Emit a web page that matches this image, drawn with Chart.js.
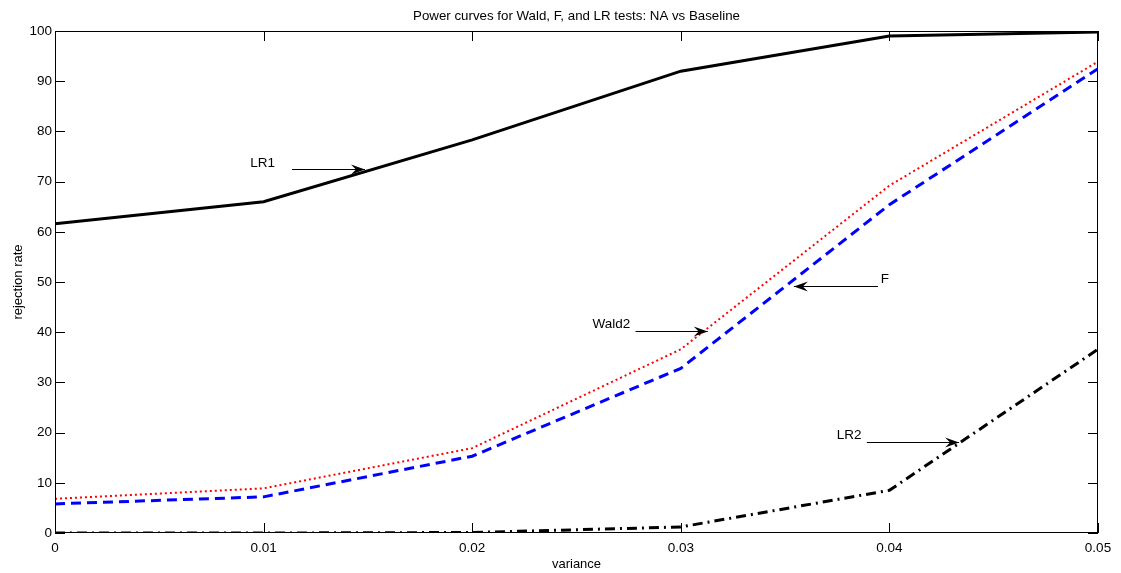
<!DOCTYPE html>
<html>
<head>
<meta charset="utf-8">
<script src="https://cdn.jsdelivr.net/npm/chart.js@4.4.0/dist/chart.umd.min.js"></script>
<style>
html,body{margin:0;padding:0;background:#fff;}
canvas{display:block;}
</style>
</head>
<body>
<canvas id="c" width="1121" height="573"></canvas>
<script>
const variance = [0, 0.01, 0.02, 0.03, 0.04, 0.05];
const lr1   = [61.6, 66.0, 78.3, 92.0, 99.0, 99.8];
const wald2 = [6.8, 8.9, 16.9, 36.6, 69.2, 93.9];
const fTest = [5.8, 7.2, 15.3, 32.8, 65.4, 92.5];
const lr2   = [0.0, 0.0, 0.1, 1.2, 8.5, 36.6];
const xTicks = [0, 0.01, 0.02, 0.03, 0.04, 0.05];
const yTicks = [0, 10, 20, 30, 40, 50, 60, 70, 80, 90, 100];
const labels = ['LR1', 'Wald2', 'F', 'LR2'];
const titleText = 'Power curves for Wald, F, and LR tests: NA vs Baseline';

const FONT = 'Liberation Sans, Arial, Helvetica, sans-serif';
const pts = arr => variance.map((v, i) => ({x: v, y: arr[i]}));

// annotation arrows (data units)
const notes = [
  {t: labels[0], tx: 0.00936, ty: 73.6, x0: 0.01136, x1: 0.01486, y: 72.5},
  {t: labels[1], tx: 0.02577, ty: 41.5, x0: 0.02783, x1: 0.03129, y: 40.3},
  {t: labels[2], tx: 0.03959, ty: 50.6, x0: 0.03945, x1: 0.03542, y: 49.2},
  {t: labels[3], tx: 0.03748, ty: 19.4, x0: 0.03892, x1: 0.04334, y: 18.2}
];

const boxPlugin = {
  id: 'box',
  afterDraw(chart) {
    const {ctx, chartArea: a, scales: {x, y}} = chart;
    ctx.save();
    // title centered over the plot area
    ctx.font = '13.3px ' + FONT;
    ctx.fillStyle = '#000';
    ctx.textAlign = 'center';
    ctx.textBaseline = 'middle';
    ctx.fillText(titleText, (a.left + a.right) / 2, a.top - 15);

    ctx.strokeStyle = '#000';
    ctx.lineWidth = 1;
    ctx.strokeRect(a.left + 0.5, a.top + 0.5, a.right - a.left - 1, a.bottom - a.top - 1);
    const L = 10;
    ctx.beginPath();
    xTicks.forEach(v => {
      const px = Math.round(x.getPixelForValue(v)) + 0.5;
      ctx.moveTo(px, a.bottom); ctx.lineTo(px, a.bottom - L);
      ctx.moveTo(px, a.top); ctx.lineTo(px, a.top + L);
    });
    yTicks.forEach(v => {
      const py = Math.round(y.getPixelForValue(v)) + 0.5;
      ctx.moveTo(a.left, py); ctx.lineTo(a.left + L, py);
      ctx.moveTo(a.right, py); ctx.lineTo(a.right - L, py);
    });
    ctx.stroke();
    ctx.font = '13.5px ' + FONT;
    ctx.textAlign = 'left';
    notes.forEach(n => {
      const tx = x.getPixelForValue(n.tx), ty = y.getPixelForValue(n.ty);
      ctx.fillText(n.t, tx, ty);
      const x0 = x.getPixelForValue(n.x0), x1 = x.getPixelForValue(n.x1);
      const py = Math.round(y.getPixelForValue(n.y)) + 0.5;
      ctx.beginPath();
      ctx.lineWidth = 1;
      ctx.moveTo(x0, py); ctx.lineTo(x1, py);
      ctx.stroke();
      const dir = x1 > x0 ? 1 : -1;
      ctx.beginPath();
      ctx.moveTo(x1, py);
      ctx.lineTo(x1 - dir * 14, py - 5);
      ctx.lineTo(x1 - dir * 9, py);
      ctx.lineTo(x1 - dir * 14, py + 5);
      ctx.closePath();
      ctx.fill();
    });
    ctx.restore();
  }
};

new Chart(document.getElementById('c'), {
  type: 'line',
  data: {
    datasets: [
      {label: labels[0], data: pts(lr1), borderColor: '#000', borderWidth: 3, pointRadius: 0, tension: 0},
      {label: labels[1], data: pts(wald2), borderColor: '#ff0000', borderWidth: 2, borderDash: [2, 3], pointRadius: 0, tension: 0},
      {label: labels[2], data: pts(fTest), borderColor: '#0000ff', borderWidth: 3, borderDash: [10, 6], pointRadius: 0, tension: 0},
      {label: labels[3], data: pts(lr2), borderColor: '#000', borderWidth: 3, borderDash: [10, 5, 2, 5], pointRadius: 0, tension: 0}
    ]
  },
  options: {
    responsive: false,
    animation: false,
    layout: {padding: {left: 11, right: 23, top: 31, bottom: 0}},
    plugins: {
      legend: {display: false},
      tooltip: {enabled: false},
      title: {display: false}
    },
    scales: {
      x: {
        type: 'linear', min: 0, max: 0.05,
        afterBuildTicks: s => { s.ticks = xTicks.map(v => ({value: v})); },
        ticks: {color: '#000', font: {family: FONT, size: 13.5}, padding: 7,
          callback: v => String(+v.toFixed(2))},
        grid: {drawOnChartArea: false, drawTicks: false},
        border: {display: false},
        title: {display: true, text: 'variance', color: '#000', font: {family: FONT, size: 13}, padding: {top: 0, bottom: 1}},
        afterFit: s => { s.height = 40; }
      },
      y: {
        min: 0, max: 100,
        afterBuildTicks: s => { s.ticks = yTicks.map(v => ({value: v})); },
        ticks: {color: '#000', font: {family: FONT, size: 13.5}, padding: 3},
        grid: {drawOnChartArea: false, drawTicks: false},
        border: {display: false},
        title: {display: true, text: 'rejection rate', color: '#000', font: {family: FONT, size: 13}, padding: {top: 0, bottom: 0}},
        afterFit: s => { s.width = 44; }
      }
    }
  },
  plugins: [boxPlugin]
});
</script>
</body>
</html>
